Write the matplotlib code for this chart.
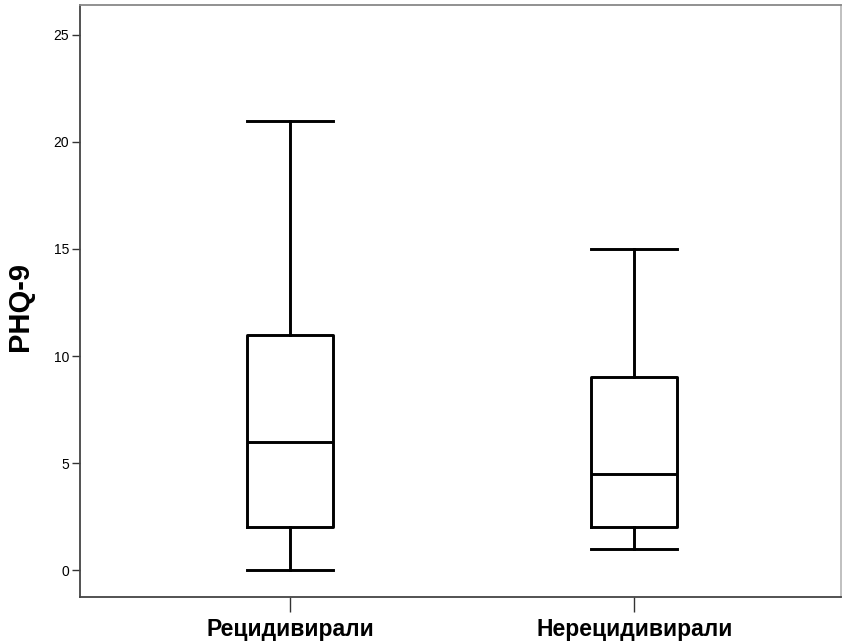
import matplotlib
matplotlib.use("Agg")
import matplotlib.pyplot as plt

categories = ["Рецидивирали", "Нерецидивирали"]
whislo = [0, 1]
q1 = [2, 2]
med = [6, 4.5]
q3 = [11, 9]
whishi = [21, 15]
yticks = [0, 5, 10, 15, 20, 25]

plt.rcParams['font.family'] = ['Liberation Sans', 'DejaVu Sans']

fig = plt.figure(figsize=(8.43, 6.42), dpi=100)
ax = fig.add_axes([80/843, 45/642, 761/843, 592/642])

stats = [dict(label=c, whislo=a, q1=b, med=m, q3=d, whishi=e, fliers=[])
         for c, a, b, m, d, e in zip(categories, whislo, q1, med, q3, whishi)]
lw = 2.1
ax.bxp(stats, positions=[0, 1], widths=0.25, showfliers=False,
       boxprops=dict(color='black', linewidth=lw),
       medianprops=dict(color='black', linewidth=lw),
       whiskerprops=dict(color='black', linewidth=lw),
       capprops=dict(color='black', linewidth=lw),
       capwidths=0.25)

ax.set_xlim(-0.61, 1.60)
ax.set_ylim(-1.26, 26.4)
ax.set_yticks(yticks)
ax.set_yticklabels([str(v) for v in yticks], fontsize=10)
ax.set_xticks([0, 1])
ax.set_xticklabels(categories, fontsize=16.5, fontweight='bold')
ax.tick_params(axis='y', length=6, width=1, color='#333333', pad=2)
ax.tick_params(axis='x', length=11, width=1, color='#333333', pad=4)
ax.set_ylabel("PHQ-9", fontsize=21, fontweight='bold')
ax.yaxis.set_label_coords(-46/761, 0.49)

ax.spines['left'].set_color('#444444')
ax.spines['bottom'].set_color('#444444')
ax.spines['top'].set_color('#888888')
ax.spines['right'].set_color('#bbbbbb')
for s in ax.spines.values():
    s.set_linewidth(1.3)

fig.savefig("out.png", dpi=100)
